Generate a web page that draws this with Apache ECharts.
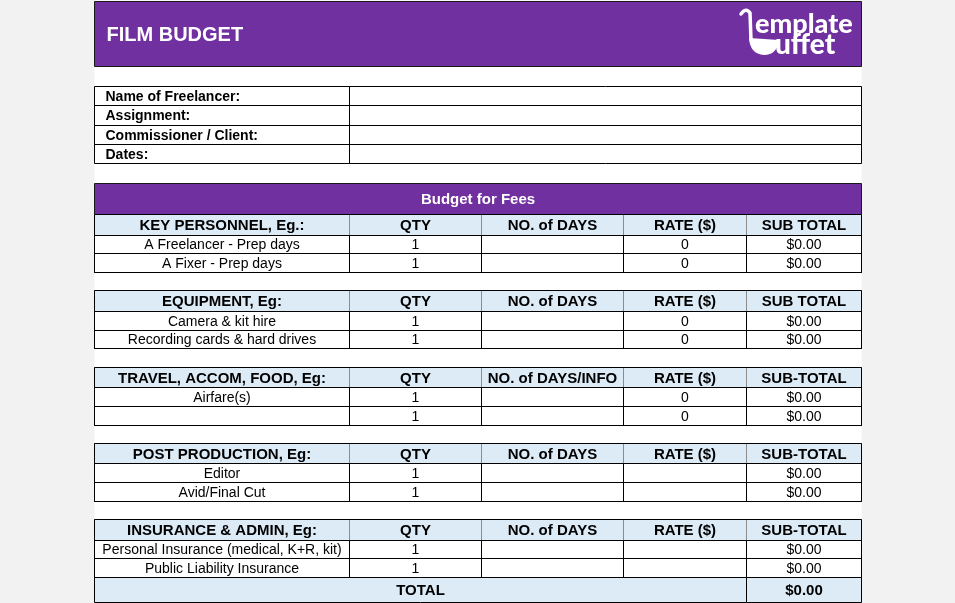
<!DOCTYPE html>
<html>
<head>
<meta charset="utf-8">
<script src="https://cdn.jsdelivr.net/npm/echarts@6/dist/echarts.min.js"></script>
<style>
  html, body { margin: 0; padding: 0; background: #f2f2f2; }
  #sheet { width: 955px; height: 603px; }
</style>
</head>
<body>
<div id="sheet"></div>
<script>
// ---- data ----
const sheetTitle = 'FILM BUDGET';
const bandTitle = 'Budget for Fees';
const infoLabels = ['Name of Freelancer:', 'Assignment:', 'Commissioner / Client:', 'Dates:'];

const sectionTitles = ['KEY PERSONNEL, Eg.:', 'EQUIPMENT, Eg:', 'TRAVEL, ACCOM, FOOD, Eg:', 'POST PRODUCTION, Eg:', 'INSURANCE & ADMIN, Eg:'];
const qtyHeaders = ['QTY', 'QTY', 'QTY', 'QTY', 'QTY'];
const daysHeaders = ['NO. of DAYS', 'NO. of DAYS', 'NO. of DAYS/INFO', 'NO. of DAYS', 'NO. of DAYS'];
const rateHeaders = ['RATE ($)', 'RATE ($)', 'RATE ($)', 'RATE ($)', 'RATE ($)'];
const subHeaders = ['SUB TOTAL', 'SUB TOTAL', 'SUB-TOTAL', 'SUB-TOTAL', 'SUB-TOTAL'];

const itemNames = [
  ['A Freelancer - Prep days', 'A Fixer - Prep days'],
  ['Camera & kit hire', 'Recording cards & hard drives'],
  ['Airfare(s)', ''],
  ['Editor', 'Avid/Final Cut'],
  ['Personal Insurance (medical, K+R, kit)', 'Public Liability Insurance']
];
const itemQty = [[1, 1], [1, 1], [1, 1], [1, 1], [1, 1]];
const itemDays = [[null, null], [null, null], [null, null], [null, null], [null, null]];
const itemRates = [[0, 0], [0, 0], [0, 0], [null, null], [null, null]];
const itemSubTotals = [[0, 0], [0, 0], [0, 0], [0, 0], [0, 0]];
const totalLabel = 'TOTAL';
const totalValue = 0;

// ---- layout ----
const PURPLE = '#7030A0';
const BLUE = '#DDEBF7';
const FONT = '"Liberation Sans", Arial, sans-serif';
const colX = [94, 349, 481, 623, 746, 861];
const money = v => '$' + v.toFixed(2);

const cells = [];
function cell(x0, x1, y0, y1, opt) {
  cells.push(Object.assign({ x0, x1, y0, y1, text: '', fill: null, stroke: null,
    size: 14, bold: false, color: '#000', align: 'center', pad: 0 }, opt));
}

// white sheet area
cell(94, 861, 0, 603, { fill: '#fff' });
// title bar
cell(94, 861, 1, 66, { fill: PURPLE, stroke: '#1a1a1a', text: sheetTitle, size: 20, bold: true, color: '#fff', align: 'left', pad: 12 });

// info block
infoLabels.forEach((t, i) => {
  const y0 = 86 + i * 19.25, y1 = y0 + 19.25;
  cell(colX[0], colX[1], y0, y1, { stroke: '#000', text: t, bold: true, align: 'left', pad: 11 });
  cell(colX[1], colX[5], y0, y1, { stroke: '#000' });
});

// budget band
cell(94, 861, 183, 214, { fill: PURPLE, stroke: '#1a1a1a', text: bandTitle, size: 15, bold: true, color: '#fff' });

// sections
sectionTitles.forEach((title, k) => {
  const h0 = 214 + k * 76.25, h1 = h0 + 20.5;
  const heads = [title, qtyHeaders[k], daysHeaders[k], rateHeaders[k], subHeaders[k]];
  heads.forEach((t, c) => {
    cell(colX[c], colX[c + 1], h0, h1, { fill: BLUE, stroke: '#8c8c8c', text: t, size: 15, bold: true });
  });
  itemNames[k].forEach((name, r) => {
    const y0 = h1 + r * 18.75, y1 = y0 + 18.75;
    const d = itemDays[k][r], rt = itemRates[k][r];
    const vals = [name, String(itemQty[k][r]), d == null ? '' : String(d), rt == null ? '' : String(rt), money(itemSubTotals[k][r])];
    vals.forEach((t, c) => {
      cell(colX[c], colX[c + 1], y0, y1, { stroke: '#000', text: t });
    });
  });
  // block frame
  cell(colX[0], colX[5], h0, h1 + 37.5, { stroke: '#000' });
});

// total row
cell(colX[0], colX[4], 577, 602, { fill: BLUE, stroke: '#000', text: totalLabel, size: 15, bold: true });
cell(colX[4], colX[5], 577, 602, { fill: BLUE, stroke: '#000', text: money(totalValue), size: 15, bold: true });

const chart = echarts.init(document.getElementById('sheet'));

function renderCell(params, api) {
  const c = cells[api.value(2)];
  const p0 = api.coord([c.x0, c.y0]);
  const p1 = api.coord([c.x1, c.y1]);
  const x = Math.round(p0[0]) + 0.5, y = Math.round(p0[1]) + 0.5;
  const w = Math.round(p1[0]) - Math.round(p0[0]);
  const h = Math.round(p1[1]) - Math.round(p0[1]);
  const children = [{
    type: 'rect',
    shape: { x: x, y: y, width: w, height: h },
    style: { fill: c.fill || 'none', stroke: c.stroke || 'none', lineWidth: 1 }
  }];
  if (c.text) {
    children.push({
      type: 'text',
      style: {
        text: c.text,
        x: c.align === 'left' ? x + c.pad : x + w / 2,
        y: y + h / 2 + 1,
        align: c.align,
        verticalAlign: 'middle',
        fontFamily: FONT,
        fontSize: c.size,
        fontWeight: c.bold ? 'bold' : 'normal',
        fill: c.color
      }
    });
  }
  return { type: 'group', children: children };
}

// template buffet logo, drawn in the title bar
function renderLogo(params, api) {
  const o = api.coord([0, 0]);
  return {
    type: 'group', x: o[0], y: o[1],
    children: [
      { type: 'path', shape: { pathData: 'M741,14 Q746,7 750,13 L751,40' },
        style: { fill: 'none', stroke: '#fff', lineWidth: 3.5, lineCap: 'round' } },
      { type: 'path', shape: { pathData: 'M749,38 L779,40 Q777,55 764,55 Q750,54 749,38 Z' },
        style: { fill: '#fff' } },
      { type: 'text', style: { text: 'emplate', x: 755, y: 11, fontFamily: 'Lato, sans-serif', fontWeight: 900, fontSize: 27, fill: '#fff' } },
      { type: 'text', style: { text: 'uffet', x: 775, y: 31, fontFamily: 'Lato, sans-serif', fontWeight: 900, fontSize: 28, fill: '#fff' } }
    ]
  };
}

const option = {
  animation: false,
  backgroundColor: '#f2f2f2',
  grid: { left: 0, right: 0, top: 0, bottom: 0 },
  xAxis: { type: 'value', min: 0, max: 955, show: false },
  yAxis: { type: 'value', min: 0, max: 603, inverse: true, show: false },
  series: [{
    type: 'custom',
    renderItem: renderCell,
    encode: { x: 0, y: 1 },
    data: cells.map((c, i) => [c.x0, c.y0, i]),
    silent: true
  }, {
    type: 'custom',
    renderItem: renderLogo,
    encode: { x: 0, y: 1 },
    data: [[0, 0]],
    z: 5,
    silent: true
  }]
};
chart.setOption(option);
</script>
</body>
</html>
